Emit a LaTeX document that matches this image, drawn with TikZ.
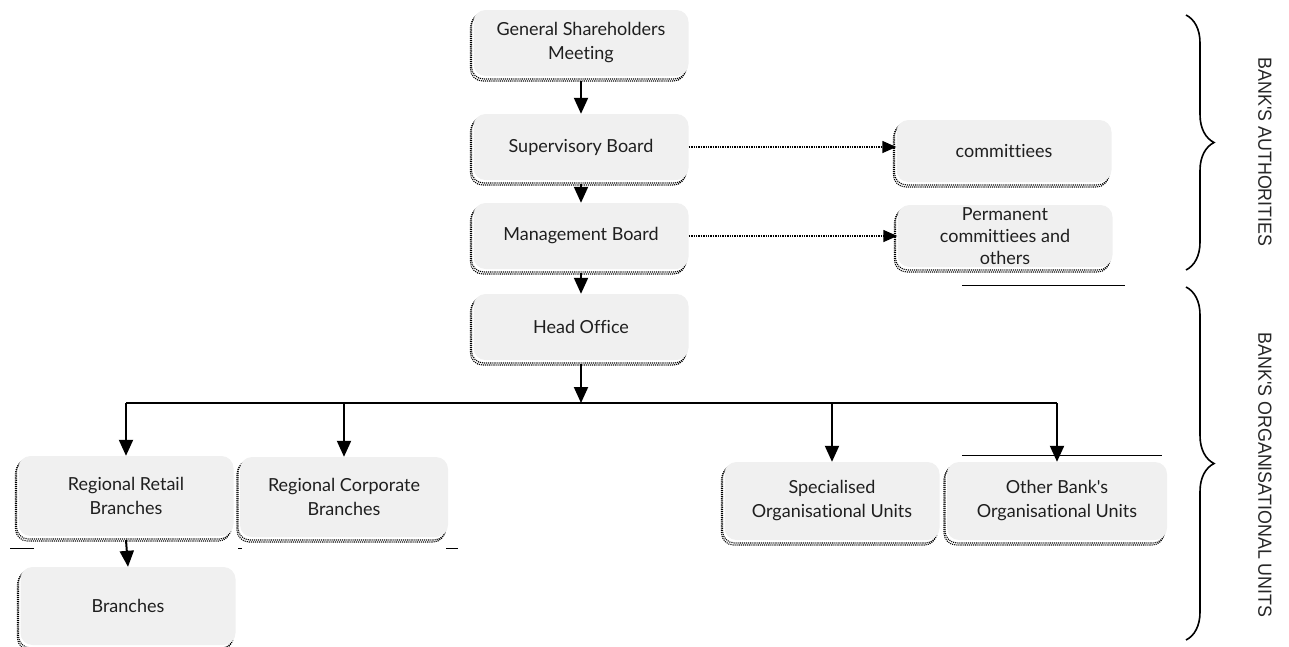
\documentclass[tikz,border=0pt]{standalone}
\usepackage{fontspec}
\usepackage{graphicx}
\setmainfont{Lato}[Ligatures={NoCommon,TeXOff}]
\newfontfamily\sidefont{Liberation Sans}[Ligatures=TeXOff]
\usetikzlibrary{arrows.meta,shadows,decorations.pathreplacing}
\definecolor{boxgray}{HTML}{F0F0F0}
\begin{document}
\begin{tikzpicture}[x=1pt,y=-1pt,
 orgbox/.style={fill=boxgray, rounded corners=12pt, minimum width=215pt, minimum height=66pt,
   align=center, font=\fontsize{18}{24}\selectfont, text=black!88, inner sep=0pt,
   general shadow={shadow xshift=-3pt, shadow yshift=-5pt, draw=black, densely dotted, line width=1.1pt, fill=none},
   general shadow={shadow xshift=-2pt, shadow yshift=-3pt, draw=black, densely dotted, line width=1.1pt, fill=none}},
 arr/.style={line width=2pt, -{Triangle[width=14pt,length=16pt]}},
 darr/.style={line width=1.4pt, densely dotted, -{Triangle[width=12pt,length=14pt]}},
 bus/.style={line width=2pt},
 thin/.style={line width=1pt},
 brc/.style={line width=1.6pt, decorate, decoration={brace, amplitude=28pt}},
 side/.style={font=\sidefont\fontsize{19}{20}\selectfont, rotate=-90, text=black!85}
]
\useasboundingbox (0,0) rectangle (1289,646);

\node[orgbox] (gsm) at (581,43) {General Shareholders\\Meeting};
\node[orgbox] (sb) at (581,147) {Supervisory Board};
\node[orgbox] (mb) at (581,236) {Management Board};
\node[orgbox] (ho) at (581,327) {Head Office};
\node[orgbox, minimum height=62pt] (com) at (1004,151) {committiees};
\node[orgbox, minimum height=62pt, font=\fontsize{18}{22}\selectfont] (perm) at (1005,236) {Permanent\\committiees and\\others};
\node[orgbox, minimum height=80pt] (ret) at (126,496) {Regional Retail\\Branches};
\node[orgbox, minimum height=80pt, minimum width=208pt] (corp) at (344,497) {Regional Corporate\\Branches};
\node[orgbox, minimum height=78pt] (br) at (128,606) {Branches};
\node[orgbox, minimum height=78pt] (spec) at (832,501) {Specialised\\Organisational Units};
\node[orgbox, minimum height=78pt, minimum width=220pt] (oth) at (1057,501) {Other Bank's\\Organisational Units};

\draw[arr] (gsm.south) ++(0,5) -- (sb.north);
\draw[arr] (sb.south) ++(0,4) -- (mb.north);
\draw[arr] (mb.south) ++(0,4) -- (ho.north);
\draw[darr] (sb.east) -- (sb.east -| com.west);
\draw[darr] (mb.east) -- (mb.east -| perm.west);

\coordinate (busL) at (ret.north |- 0,403);
\coordinate (busR) at (oth.north |- 0,403);
\draw[arr] (ho.south) ++(0,4) -- (ho.south |- busL);
\draw[bus] (busL) -- (busR);
\draw[arr] (busL) -- (ret.north);
\draw[arr] (corp.north |- busL) -- (corp.north);
\draw[arr] (spec.north |- busL) -- (spec.north);
\draw[arr] (busR) -- (oth.north);
\draw[arr] (ret.south) ++(0,4) -- (br.north);

% stray rules
\coordinate (u1a) at (962,285); \coordinate (u1b) at (1125,285);
\draw[thin] (u1a) -- (u1b);
\coordinate (u2a) at (962,455); \coordinate (u2b) at (1162,455);
\draw[thin] (u2a) -- (u2b);
\coordinate (u3a) at (10,548); \coordinate (u3b) at (34,548);
\draw[thin] (u3a) -- (u3b);
\coordinate (u4a) at (238,548); \coordinate (u4b) at (242,548);
\draw[line width=0.6pt] (u4a) -- (u4b);
\coordinate (u5a) at (446,548); \coordinate (u5b) at (458,548);
\draw[thin] (u5a) -- (u5b);

% braces
\coordinate (b1t) at (1186,15); \coordinate (b1b) at (1186,270);
\coordinate (b2t) at (1186,287); \coordinate (b2b) at (1186,640);
\draw[brc] (b1t) -- (b1b);
\draw[brc] (b2t) -- (b2b);
\node[side] (auth) at (1265,152) {\scalebox{0.94}[1]{BANK'S AUTHORITIES}};
\node[side] (units) at (1265,475) {\scalebox{0.94}[1]{BANK'S ORGANISATIONAL UNITS}};
\end{tikzpicture}
\end{document}
